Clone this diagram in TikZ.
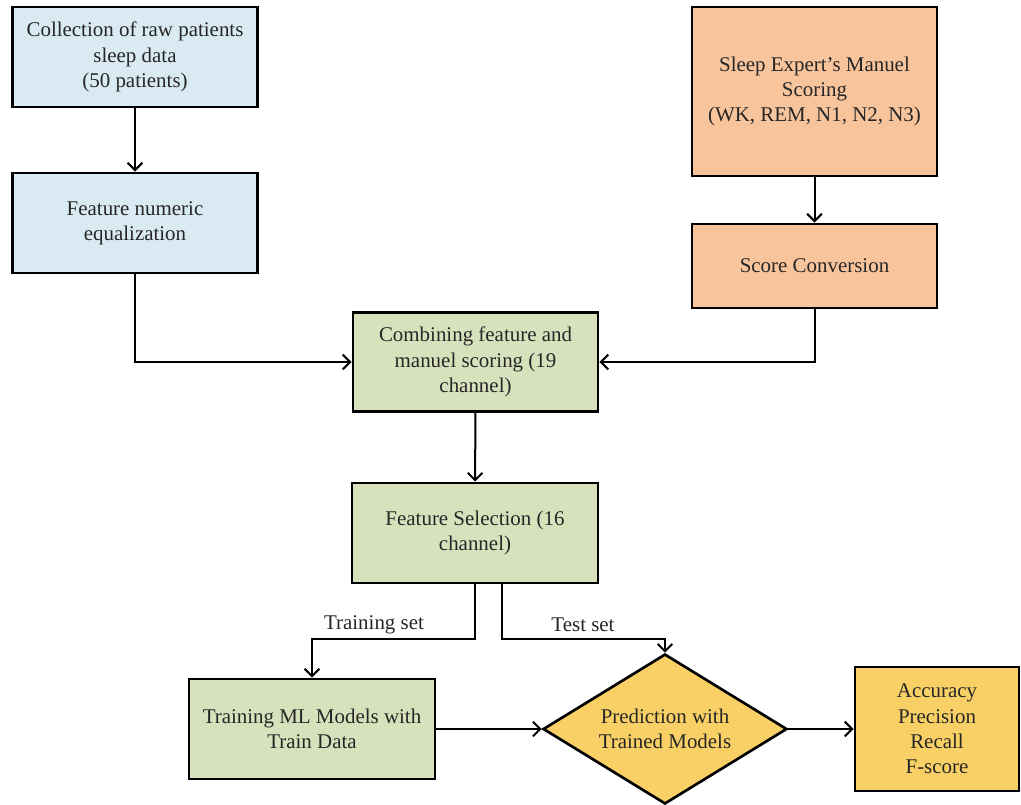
\documentclass[tikz,border=0pt]{standalone}
\usepackage{fontspec}
\setmainfont{Liberation Serif}
\usetikzlibrary{shapes.geometric,arrows.meta,calc}
\definecolor{cblue}{HTML}{DAEAF2}
\definecolor{corange}{HTML}{F8C49C}
\definecolor{cgreen}{HTML}{D7E2BD}
\definecolor{cyellow}{HTML}{F9D065}
\begin{document}
\begin{tikzpicture}[x=0.75pt,y=-0.75pt,
  box/.style={draw, line width=2.2pt, align=center, inner sep=2pt,
    font=\fontsize{15.7}{19}\selectfont, text=black!85},
  decision/.style={draw, diamond, line width=2pt, align=center, inner sep=0pt,
    aspect=1.63, font=\fontsize{15.7}{19}\selectfont, text=black!85},
  conn/.style={line width=1.5pt, -{Straight Barb[length=5.5pt,width=11pt]}},
  lbl/.style={font=\fontsize{15.7}{19}\selectfont, text=black!85, inner sep=1pt}]
\useasboundingbox (0,0) rectangle (1021,804);
\fill[white] (0,0) rectangle (1021,804);

\node[box, fill=cblue, minimum width=183.75pt, minimum height=75pt] (A) at (135,57)
  {Collection of raw patients\\sleep data\\(50 patients)};
\node[box, fill=cblue, minimum width=183.75pt, minimum height=75pt] (B) at (135,223)
  {Feature numeric\\equalization};
\node[box, fill=corange, minimum width=183.75pt, minimum height=126.75pt] (C) at (814.5,91.5)
  {Sleep Expert's Manuel\\Scoring\\(WK, REM, N1, N2, N3)};
\node[box, fill=corange, minimum width=183.75pt, minimum height=63pt] (D) at (814.5,266)
  {Score Conversion};
\node[box, fill=cgreen, minimum width=183.75pt, minimum height=74.25pt] (E) at (475.5,362)
  {Combining feature and\\manuel scoring (19\\channel)};
\node[box, fill=cgreen, minimum width=184.5pt, minimum height=75pt] (F) at (475,533)
  {Feature Selection (16\\channel)};
\node[box, fill=cgreen, minimum width=184.5pt, minimum height=75pt] (G) at (312,729)
  {Training ML Models with\\Train Data};
\node[decision, fill=cyellow, minimum width=183pt, minimum height=112.5pt] (H) at (665,729)
  {Prediction with\\Trained Models};
\node[box, fill=cyellow, minimum width=123pt, minimum height=93pt] (I) at (937,729)
  {Accuracy\\Precision\\Recall\\F-score};

\node[lbl] (trl) at (374,625) {Training set};
\node[lbl] (tsl) at (583,625) {Test set};

\coordinate (Ftr) at ($(F.south)$);
\coordinate (Fts) at ($(F.south)+(27,0)$);

\draw[conn] (A) -- (B);
\draw[conn] (C) -- (D);
\draw[conn] (B.south) |- (E.west);
\draw[conn] (D.south) |- (E.east);
\draw[conn] (E) -- (F);
\draw[conn] (Ftr) -- ++(0,55) -| (G.north);
\draw[conn] (Fts) -- ++(0,55) -| (H.north);
\draw[conn] (G) -- (H);
\draw[conn] (H) -- (I);
\end{tikzpicture}
\end{document}
